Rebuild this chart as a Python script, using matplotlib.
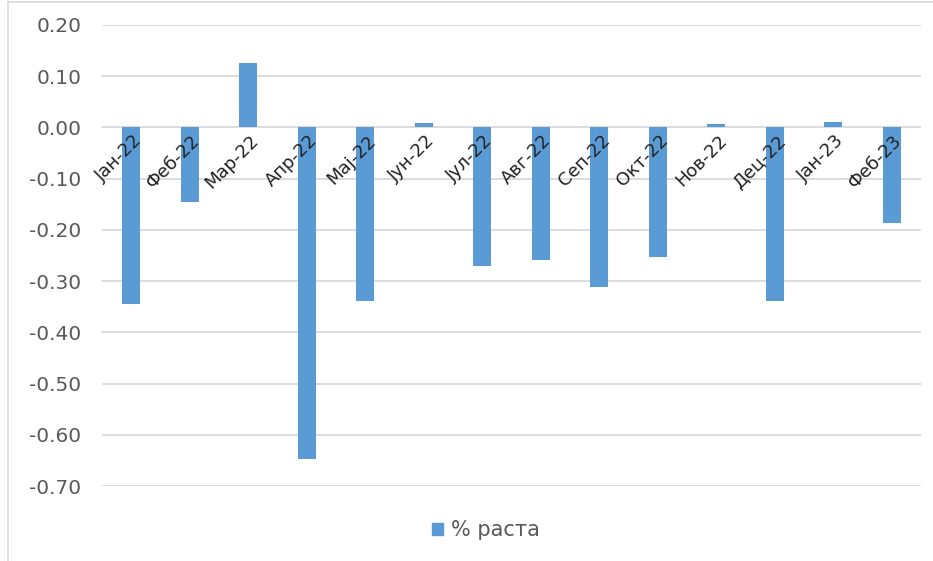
import numpy as np
import matplotlib
matplotlib.use("Agg")
import matplotlib.pyplot as plt
from matplotlib.lines import Line2D

months = ["Јан-22", "Феб-22", "Мар-22", "Апр-22", "Мај-22", "Јун-22", "Јул-22",
          "Авг-22", "Сеп-22", "Окт-22", "Нов-22", "Дец-22", "Јан-23", "Феб-23"]
growth = [-0.344, -0.145, 0.125, -0.647, -0.338, 0.008, -0.271,
          -0.258, -0.312, -0.252, 0.007, -0.338, 0.010, -0.187]
series_name = "% раста"
yticks = [0.20, 0.10, 0.00, -0.10, -0.20, -0.30, -0.40, -0.50, -0.60, -0.70]

bar_color = "#5B9BD5"
grid_color = "#D9D9D9"
text_color = "#595959"

plt.rcParams["font.family"] = ["DejaVu Sans"]

fig = plt.figure(figsize=(9.33, 5.61), dpi=100)
ax = fig.add_axes([102 / 933, 75 / 561, 819 / 933, 461 / 561])

x = np.arange(len(months))
ax.bar(x, growth, width=0.31, color=bar_color, zorder=3, label=series_name)

ax.set_xlim(-0.5, len(months) - 0.5)
ax.set_ylim(-0.70, 0.20)
ax.set_yticks(yticks)
ax.set_yticklabels([f"{v:.2f}" for v in yticks], fontsize=14.5, color=text_color)
ax.tick_params(axis="y", length=0, pad=15)
ax.set_xticks([])
ax.grid(axis="y", color=grid_color, linewidth=1.3, zorder=0)
for s in ax.spines.values():
    s.set_visible(False)

# category labels sit at the zero line, rotated like Excel does it
for i, m in enumerate(months):
    ax.annotate(m, xy=(i, 0), xytext=(1, -3), textcoords="offset points",
                rotation=45, rotation_mode="anchor", ha="right", va="top",
                fontsize=13, color="#222222", zorder=4)

fig.legend(handles=[plt.Rectangle((0, 0), 1, 1, color=bar_color)], labels=[series_name],
           loc="center", bbox_to_anchor=(486 / 933, 1 - 530 / 561), frameon=False,
           fontsize=15, handlelength=0.5, handleheight=0.5, handletextpad=0.4,
           labelcolor=text_color)

# light frame at left and top of the picture
fig.add_artist(Line2D([8 / 933, 8 / 933], [0, 1 - 2 / 561], transform=fig.transFigure,
                      color=grid_color, linewidth=1.2))
fig.add_artist(Line2D([8 / 933, 1], [1 - 2 / 561, 1 - 2 / 561], transform=fig.transFigure,
                      color=grid_color, linewidth=1.2))

fig.savefig("out.png", dpi=100)
